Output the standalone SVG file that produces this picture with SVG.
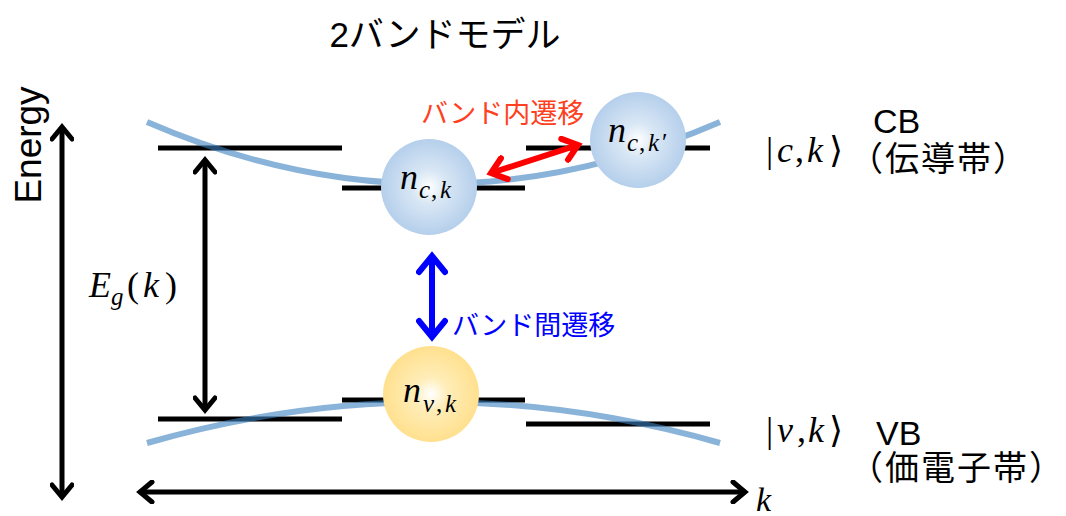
<svg xmlns="http://www.w3.org/2000/svg" width="1066" height="516" viewBox="0 0 1066 516">
  <style>
    .lvl { stroke: #000; stroke-width: 5; fill: none; }
    .band { stroke: #3A80C0; stroke-opacity: 0.6; stroke-width: 6; fill: none; }
    .ax { stroke: #000; stroke-width: 5; fill: none; }
    .jp { font-family: "Liberation Sans", "Noto Sans CJK JP", sans-serif; }
    .math { font-family: "Liberation Serif", "DejaVu Serif", serif; }
    .it { font-style: italic; }
  </style>
  <defs>
    <marker id="headK" markerUnits="userSpaceOnUse" viewBox="0 0 24 24" markerWidth="24" markerHeight="24" refX="20" refY="12" orient="auto-start-reverse">
      <path d="M8,2 L20,12 L8,22" fill="none" stroke="#000" stroke-width="5" stroke-linecap="round"/>
    </marker>
    <marker id="headR" markerUnits="userSpaceOnUse" viewBox="0 0 28 28" markerWidth="28" markerHeight="28" refX="23" refY="14" orient="auto-start-reverse">
      <path d="M9,3 L23,14 L9,25" fill="none" stroke="#FF0000" stroke-width="6" stroke-linecap="round"/>
    </marker>
    <marker id="headB" markerUnits="userSpaceOnUse" viewBox="0 0 32 32" markerWidth="32" markerHeight="32" refX="26" refY="16" orient="auto-start-reverse">
      <path d="M10,3 L26,16 L10,29" fill="none" stroke="#0000FF" stroke-width="6" stroke-linecap="round"/>
    </marker>
    <radialGradient id="blueBall" cx="50%" cy="50%" r="50%">
      <stop offset="0" stop-color="#FFFFFF"/>
      <stop offset="0.35" stop-color="#D9E7F5"/>
      <stop offset="1" stop-color="#B5CFEB"/>
    </radialGradient>
    <radialGradient id="yellowBall" cx="50%" cy="50%" r="50%">
      <stop offset="0" stop-color="#FFFFFF"/>
      <stop offset="0.35" stop-color="#FFEDB8"/>
      <stop offset="1" stop-color="#FFE08E"/>
    </radialGradient>
  </defs>

  <!-- title -->
  <g id="title">
    <text class="jp" x="445" y="47" font-size="35" text-anchor="middle" fill="#000">2バンドモデル</text>
  </g>

  <!-- energy axis label -->
  <g id="energy-label">
    <text class="jp" transform="translate(41,145) rotate(-90)" font-size="37" text-anchor="middle" fill="#000">Energy</text>
  </g>

  <!-- conduction band levels -->
  <g id="cb-levels">
    <line class="lvl" x1="158" y1="148" x2="342" y2="148"/>
    <line class="lvl" x1="342" y1="188" x2="525" y2="188"/>
    <line class="lvl" x1="526" y1="148" x2="710" y2="148"/>
  </g>

  <!-- valence band levels -->
  <g id="vb-levels">
    <line class="lvl" x1="158" y1="419" x2="342" y2="419"/>
    <line class="lvl" x1="342" y1="400" x2="525" y2="400"/>
    <line class="lvl" x1="526" y1="424" x2="710" y2="424"/>
  </g>

  <!-- dispersion curves -->
  <g id="bands">
    <path class="band" d="M147,122 Q433,246 720,122"/>
    <path class="band" d="M147,443 Q433,361 720,443"/>
  </g>

  <!-- connectors -->
  <g id="connectors">
    <line class="ax" x1="62" y1="127" x2="62" y2="497" marker-start="url(#headK)" marker-end="url(#headK)"/>
    <line class="ax" x1="140" y1="492" x2="745" y2="492" marker-start="url(#headK)" marker-end="url(#headK)"/>
    <line class="ax" x1="205" y1="160" x2="205" y2="410" marker-start="url(#headK)" marker-end="url(#headK)"/>
    <line x1="491" y1="173" x2="578" y2="145" stroke="#FF0000" stroke-width="6" marker-start="url(#headR)" marker-end="url(#headR)"/>
    <line x1="432" y1="256" x2="432" y2="337" stroke="#0000FF" stroke-width="6" marker-start="url(#headB)" marker-end="url(#headB)"/>
  </g>

  <!-- occupation n_{c,k} -->
  <g id="n-ck">
    <circle cx="429" cy="187" r="48" fill="url(#blueBall)"/>
    <text class="math it" font-size="36" fill="#000"><tspan x="400" y="189">n</tspan><tspan x="419" y="198" font-size="25">c</tspan><tspan x="431" y="198" font-size="25" font-style="normal">,</tspan><tspan x="440" y="198" font-size="25">k</tspan></text>
  </g>

  <!-- occupation n_{c,k'} -->
  <g id="n-ckp">
    <circle cx="638" cy="140" r="48" fill="url(#blueBall)"/>
    <text class="math it" font-size="36" fill="#000"><tspan x="608" y="142">n</tspan><tspan x="627" y="151" font-size="25">c</tspan><tspan x="639" y="151" font-size="25" font-style="normal">,</tspan><tspan x="648" y="151" font-size="25">k</tspan><tspan x="662" y="151" font-size="25" font-style="normal">′</tspan></text>
  </g>

  <!-- occupation n_{v,k} -->
  <g id="n-vk">
    <circle cx="431" cy="394" r="48" fill="url(#yellowBall)"/>
    <text class="math it" font-size="36" fill="#000"><tspan x="403" y="402">n</tspan><tspan x="423" y="412" font-size="25">v</tspan><tspan x="436" y="412" font-size="25" font-style="normal">,</tspan><tspan x="445" y="412" font-size="25">k</tspan></text>
  </g>

  <!-- transition labels -->
  <g id="intraband-label">
    <text class="jp" x="421" y="123" font-size="27" fill="#FF4020">バンド内遷移</text>
  </g>
  <g id="interband-label">
    <text class="jp" x="452" y="335" font-size="27" fill="#0000FF">バンド間遷移</text>
  </g>

  <!-- gap label -->
  <g id="gap-label">
    <text class="math" font-size="36" fill="#000"><tspan x="89" y="297" font-style="italic">E</tspan><tspan x="111" y="305" font-size="25" font-style="italic">g</tspan><tspan x="127" y="297">(</tspan><tspan x="143" y="297" font-style="italic">k</tspan><tspan x="165" y="297">)</tspan></text>
  </g>

  <!-- conduction band state -->
  <g id="cb-state">
    <text class="math" font-size="36" fill="#000"><tspan x="766" y="162">|</tspan><tspan x="777" y="162" font-style="italic">c</tspan><tspan x="795" y="162">,</tspan><tspan x="807" y="162" font-style="italic">k</tspan><tspan x="829" y="162">⟩</tspan></text>
    <text class="jp" x="873" y="133" font-size="34" fill="#000">CB</text>
    <text class="jp" x="849" y="171" font-size="34" letter-spacing="2" fill="#000">（伝導帯）</text>
  </g>

  <!-- valence band state -->
  <g id="vb-state">
    <text class="math" font-size="36" fill="#000"><tspan x="766" y="442">|</tspan><tspan x="777" y="442" font-style="italic">v</tspan><tspan x="797" y="442">,</tspan><tspan x="808" y="442" font-style="italic">k</tspan><tspan x="829" y="442">⟩</tspan></text>
    <text class="jp" x="876" y="445" font-size="34" fill="#000">VB</text>
    <text class="jp" x="849" y="480" font-size="34" letter-spacing="2" fill="#000">（価電子帯）</text>
  </g>

  <!-- wavevector label -->
  <g id="k-label">
    <text class="math it" x="756" y="511" font-size="34" fill="#000">k</text>
  </g>
</svg>
